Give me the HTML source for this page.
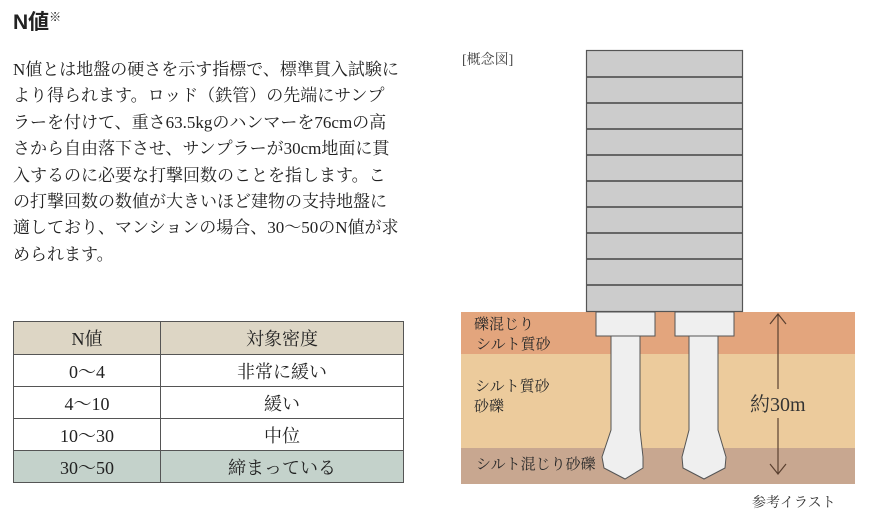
<!DOCTYPE html>
<html><head><meta charset="utf-8"><style>
body{margin:0;width:877px;height:514px;background:#fff;position:relative;overflow:hidden;font-family:"Liberation Serif","Noto Serif CJK SC",serif;color:#222}
.h{position:absolute;left:13px;top:6px;font-family:"Liberation Sans","Noto Sans CJK JP",sans-serif;font-weight:bold;font-size:21px}
.h sup{font-size:12px;font-weight:normal;vertical-align:8px}
.p{position:absolute;left:13px;top:57px;font-size:17px;line-height:26.4px;white-space:nowrap}
table{position:absolute;left:13px;top:321px;border-collapse:collapse;width:391px;font-size:18px}
td{border:1.5px solid #555;text-align:center;height:31px;padding:0}
tr.hd td{background:#ddd6c5;height:32px}
tr.g td{background:#c4d2cb}
</style></head><body>
<div class="h">N値<sup>※</sup></div>
<div class="p">N値とは地盤の硬さを示す指標で、標準貫入試験に<br>より得られます。ロッド（鉄管）の先端にサンプ<br>ラーを付けて、重さ63.5kgのハンマーを76cmの高<br>さから自由落下させ、サンプラーが30cm地面に貫<br>入するのに必要な打撃回数のことを指します。こ<br>の打撃回数の数値が大きいほど建物の支持地盤に<br>適しており、マンションの場合、30〜50のN値が求<br>められます。</div>
<table>
<tr class="hd"><td style="width:146px">N値</td><td>対象密度</td></tr>
<tr><td>0〜4</td><td>非常に緩い</td></tr>
<tr><td>4〜10</td><td>緩い</td></tr>
<tr><td>10〜30</td><td>中位</td></tr>
<tr class="g"><td>30〜50</td><td>締まっている</td></tr>
</table>
<svg style="position:absolute;left:0;top:0" width="877" height="514" font-family="Liberation Serif, Noto Serif CJK SC, serif">
<text x="462" y="64" font-size="14" fill="#444">[概念図]</text>
<rect x="461" y="312" width="394" height="42" fill="#e3a57d"/>
<rect x="461" y="354" width="394" height="94" fill="#eccb9c"/>
<rect x="461" y="448" width="394" height="36" fill="#c8a790"/>
<rect x="586.5" y="50.5" width="156" height="261" fill="#cccccc" stroke="#555" stroke-width="1.2"/>
<g stroke="#444" stroke-width="1.5">
<line x1="587" x2="742" y1="77" y2="77"/><line x1="587" x2="742" y1="103" y2="103"/><line x1="587" x2="742" y1="129" y2="129"/><line x1="587" x2="742" y1="155" y2="155"/><line x1="587" x2="742" y1="181" y2="181"/><line x1="587" x2="742" y1="207" y2="207"/><line x1="587" x2="742" y1="233" y2="233"/><line x1="587" x2="742" y1="259" y2="259"/><line x1="587" x2="742" y1="285" y2="285"/></g>
<g fill="#efefef" stroke="#555" stroke-width="1">
<rect x="596" y="312" width="59" height="24"/>
<rect x="675" y="312" width="59" height="24"/>
<path d="M611 336 L640 336 L640 430 L643 457 L643 468 L625 479 L604 468 L602 457 L611 430 Z"/>
<path d="M689 336 L718 336 L718 430 L726 457 L725 468 L704 479 L683 468 L682 457 L689 430 Z"/>
</g>
<g stroke="#5a4030" stroke-width="1.2" fill="none">
<line x1="778" y1="314" x2="778" y2="389"/><line x1="778" y1="418" x2="778" y2="474"/>
<polyline points="770,324 778,314 786,324"/><polyline points="770,464 778,474 786,464"/></g>
<text x="750" y="411" font-size="20" fill="#333">約30m</text>
<g font-size="15" fill="#2a2a2a">
<text x="474" y="329">礫混じり</text><text x="476" y="349">シルト質砂</text>
<text x="475" y="391">シルト質砂</text><text x="474" y="411">砂礫</text>
<text x="476" y="469">シルト混じり砂礫</text></g>
<text x="752" y="507" font-size="14" fill="#333">参考イラスト</text>
</svg>
</body></html>
